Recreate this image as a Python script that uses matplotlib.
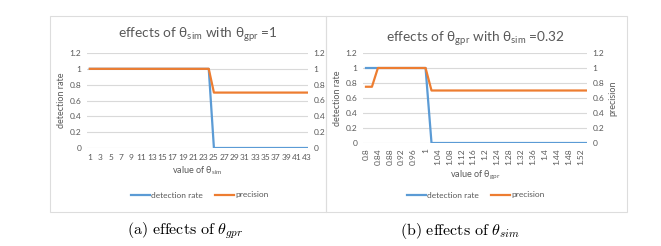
import matplotlib
matplotlib.use('Agg')
import matplotlib.pyplot as plt
from matplotlib.lines import Line2D
from matplotlib.patches import Rectangle

plt.rcParams['font.family'] = ['Lato', 'DejaVu Sans']
plt.rcParams['mathtext.fontset'] = 'custom'
plt.rcParams['mathtext.rm'] = 'Lato'
plt.rcParams['mathtext.it'] = 'Lato:italic'

### Data
# (a) sweep of theta_sim with theta_gpr = 1
sim_values = [1, 2, 3, 4, 5, 6, 7, 8, 9, 10, 11, 12, 13, 14, 15, 16, 17, 18, 19, 20, 21, 22,
              23, 24, 25, 26, 27, 28, 29, 30, 31, 32, 33, 34, 35, 36, 37, 38, 39, 40, 41, 42, 43]
det_rate_a = [1, 1, 1, 1, 1, 1, 1, 1, 1, 1, 1, 1, 1, 1, 1, 1, 1, 1, 1, 1, 1, 1, 1, 1,
              0, 0, 0, 0, 0, 0, 0, 0, 0, 0, 0, 0, 0, 0, 0, 0, 0, 0, 0]
precision_a = [1, 1, 1, 1, 1, 1, 1, 1, 1, 1, 1, 1, 1, 1, 1, 1, 1, 1, 1, 1, 1, 1, 1, 1,
               0.7, 0.7, 0.7, 0.7, 0.7, 0.7, 0.7, 0.7, 0.7, 0.7, 0.7, 0.7, 0.7, 0.7, 0.7,
               0.7, 0.7, 0.7, 0.7]

# (b) sweep of theta_gpr with theta_sim = 0.32
gpr_values = [0.80, 0.82, 0.84, 0.86, 0.88, 0.90, 0.92, 0.94, 0.96, 0.98, 1.00, 1.02, 1.04,
              1.06, 1.08, 1.10, 1.12, 1.14, 1.16, 1.18, 1.20, 1.22, 1.24, 1.26, 1.28, 1.30,
              1.32, 1.34, 1.36, 1.38, 1.40, 1.42, 1.44, 1.46, 1.48, 1.50, 1.52, 1.54]
det_rate_b = [1, 1, 1, 1, 1, 1, 1, 1, 1, 1, 1,
              0, 0, 0, 0, 0, 0, 0, 0, 0, 0, 0, 0, 0, 0, 0, 0, 0, 0, 0, 0, 0, 0, 0, 0, 0, 0, 0]
precision_b = [0.75, 0.75, 1, 1, 1, 1, 1, 1, 1, 1, 1,
               0.7, 0.7, 0.7, 0.7, 0.7, 0.7, 0.7, 0.7, 0.7, 0.7, 0.7, 0.7, 0.7, 0.7, 0.7,
               0.7, 0.7, 0.7, 0.7, 0.7, 0.7, 0.7, 0.7, 0.7, 0.7, 0.7, 0.7]

BLUE = '#5B9BD5'
ORANGE = '#ED7D31'
GREY = '#595959'
GRID = '#D9D9D9'
W, H = 661, 246

fig = plt.figure(figsize=(W / 100, H / 100), dpi=100)


def px(x0, y0, x1, y1):
    # pixel box (top-left origin) -> figure fraction rect
    return [x0 / W, 1 - y1 / H, (x1 - x0) / W, (y1 - y0) / H]


def style(ax, ax2):
    for a in (ax, ax2):
        for s in a.spines.values():
            s.set_visible(False)
        a.tick_params(length=0, labelsize=6, colors=GREY, pad=4)
        a.set_ylim(0, 1.2)
        a.set_yticks([0, 0.2, 0.4, 0.6, 0.8, 1, 1.2])
        a.set_yticklabels(['0', '0.2', '0.4', '0.6', '0.8', '1', '1.2'])
    ax.yaxis.grid(True, color=GRID, linewidth=0.8)
    ax.set_axisbelow(True)


def fmt(v):
    s = ('%.2f' % v).rstrip('0').rstrip('.')
    return s


# panel frames
fig.add_artist(Rectangle((50 / W, 1 - 212 / H), 276 / W, 196 / H, transform=fig.transFigure,
                         fill=False, edgecolor='#DDDDDD', linewidth=0.8))
fig.add_artist(Rectangle((326 / W, 1 - 212 / H), 301 / W, 196 / H, transform=fig.transFigure,
                         fill=False, edgecolor='#DDDDDD', linewidth=0.8))

### (a)
ax = fig.add_axes(px(87, 53, 308, 148))
ax2 = ax.twinx()
style(ax, ax2)
ax.plot(sim_values, det_rate_a, color=BLUE, linewidth=1.6, zorder=3)
ax2.plot(sim_values, precision_a, color=ORANGE, linewidth=1.6, zorder=4)
ax.set_xlim(0.45, 43.2)
ax.set_xticks(sim_values[::2])
ax.set_xticklabels([str(v) for v in sim_values[::2]])
ax.set_ylabel('detection rate', fontsize=6.5, color=GREY, labelpad=3)
ax.set_xlabel(r'value of θ$_{\mathrm{sim}}$', fontsize=6.5, color=GREY, labelpad=3)
ax.set_title(r'effects of θ$_{\mathrm{sim}}$ with θ$_{\mathrm{gpr}}$ =1', fontsize=9.8,
             color=GREY, pad=11)

### (b)
bx = fig.add_axes(px(363, 53, 587, 143))
bx2 = bx.twinx()
style(bx, bx2)
idx = list(range(len(gpr_values)))
bx.plot(idx, det_rate_b, color=BLUE, linewidth=1.6, zorder=3)
bx2.plot(idx, precision_b, color=ORANGE, linewidth=1.6, zorder=4)
bx.set_xlim(-0.5, 37.1)
bx.set_xticks(idx[::2])
bx.set_xticklabels([fmt(v) for v in gpr_values[::2]], rotation=90)
bx.set_ylabel('detection rate', fontsize=6.5, color=GREY, labelpad=3)
bx2.set_ylabel('precision', fontsize=6.5, color=GREY, labelpad=3)
bx.set_xlabel(r'value of θ$_{\mathrm{gpr}}$', fontsize=6.5, color=GREY, labelpad=3)
bx.set_title(r'effects of θ$_{\mathrm{gpr}}$ with θ$_{\mathrm{sim}}$ =0.32', fontsize=9.8,
             color=GREY, pad=8)

# legends
handles = [Line2D([], [], color=BLUE, linewidth=1.6), Line2D([], [], color=ORANGE, linewidth=1.6)]
labels = ['detection rate', 'precision']
for cx in (200, 476):
    fig.legend(handles, labels, loc='center', bbox_to_anchor=(cx / W, 1 - 195 / H), ncol=2,
               frameon=False, fontsize=6, handlelength=2.2, handletextpad=0.2,
               columnspacing=1.5, labelcolor=GREY)

# captions
fig.text(185 / W, 1 - 231 / H, r'$\mathrm{(a)\ effects\ of\ }\theta_{gpr}$', ha='center',
         va='center', fontsize=11.5, math_fontfamily='cm')
fig.text(460 / W, 1 - 231 / H, r'$\mathrm{(b)\ effects\ of\ }\theta_{sim}$', ha='center',
         va='center', fontsize=11.5, math_fontfamily='cm')

fig.savefig('out.png', dpi=100)
